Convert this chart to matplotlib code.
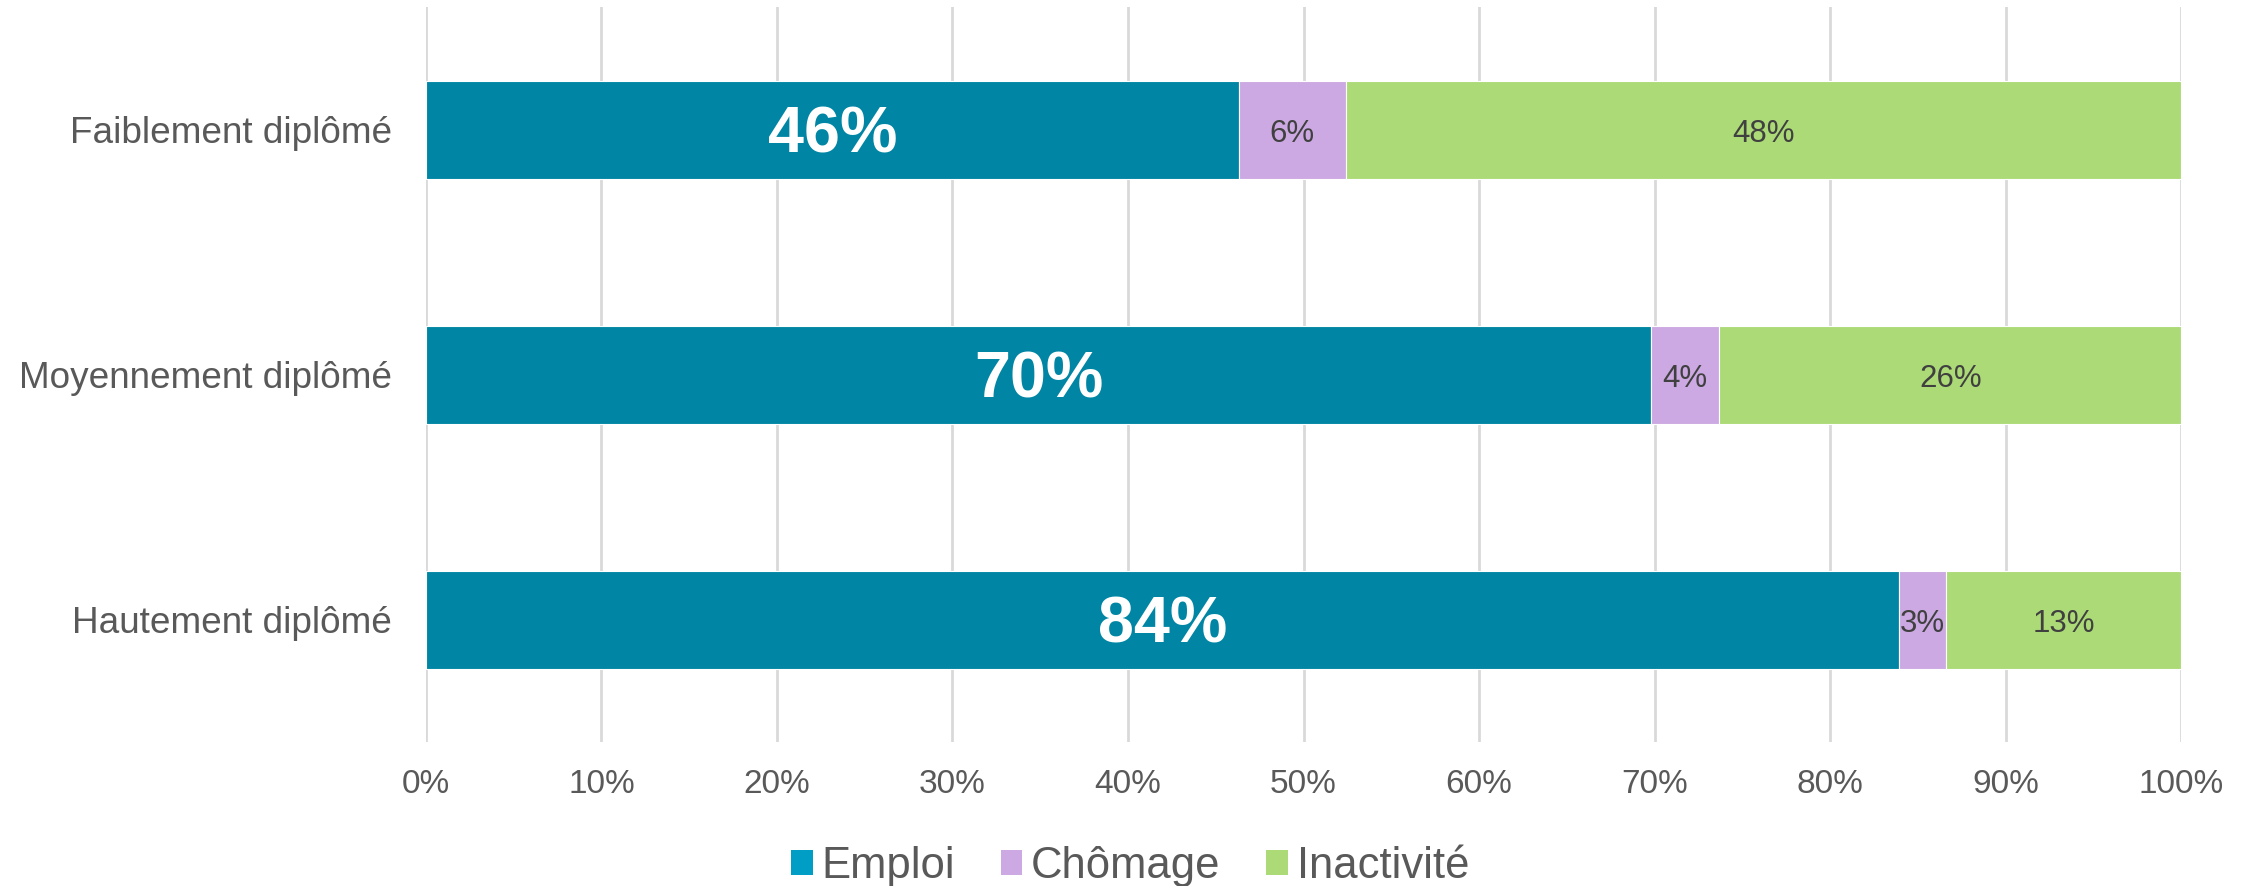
import matplotlib
matplotlib.use("Agg")
import matplotlib.pyplot as plt
from matplotlib.patches import Patch
import numpy as np

plt.rcParams['font.family'] = ['Liberation Sans', 'DejaVu Sans']

categories = ["Faiblement diplômé", "Moyennement diplômé", "Hautement diplômé"]
emploi = [46.3, 69.8, 83.9]
chomage = [6.1, 3.9, 2.7]
inactivite = [47.6, 26.3, 13.4]
series_names = ["Emploi", "Chômage", "Inactivité"]
xticks = [0, 10, 20, 30, 40, 50, 60, 70, 80, 90, 100]
xtick_labels = ["0%", "10%", "20%", "30%", "40%", "50%", "60%", "70%", "80%", "90%", "100%"]

bar_colors = ["#0086A4", "#CCA9E2", "#ACDA76"]
legend_colors = ["#009DC4", "#CCA9E2", "#ACDA76"]

fig = plt.figure(figsize=(22.49, 8.86), dpi=100)
ax = fig.add_axes([0.1894, 0.1625, 0.9698 - 0.1894, 0.992 - 0.1625])

y = np.arange(len(categories))
e = np.array(emploi)
c = np.array(chomage)
i = np.array(inactivite)

ax.barh(y, e, height=0.4, color=bar_colors[0], edgecolor="white", linewidth=0.8, zorder=3)
ax.barh(y, c, left=e, height=0.4, color=bar_colors[1], edgecolor="white", linewidth=0.8, zorder=3)
ax.barh(y, i, left=e + c, height=0.4, color=bar_colors[2], edgecolor="white", linewidth=0.8, zorder=3)

for k in range(len(categories)):
    ax.annotate(f"{round(e[k]):.0f}%", (e[k] / 2, y[k]), xytext=(0, -4.5),
                textcoords="offset points", ha="center", va="center",
                color="white", fontsize=46.5, fontweight="bold", zorder=4)
    ax.annotate(f"{round(c[k]):.0f}%", (e[k] + c[k] / 2, y[k]), xytext=(0, -3),
                textcoords="offset points", ha="center", va="center",
                color="#404040", fontsize=22.5, zorder=4)
    ax.annotate(f"{round(i[k]):.0f}%", (e[k] + c[k] + i[k] / 2, y[k]), xytext=(0, -3),
                textcoords="offset points", ha="center", va="center",
                color="#404040", fontsize=22.5, zorder=4)

ax.set_xlim(0, 100)
ax.set_ylim(2.5, -0.5)
ax.set_xticks(xticks)
ax.set_xticklabels(xtick_labels)
ax.set_yticks(y)
ax.set_yticklabels(categories)
ax.tick_params(axis="x", length=0, pad=19.5, labelsize=24, labelcolor="#595959")
ax.tick_params(axis="y", length=0, pad=24.5, labelsize=26.6, labelcolor="#595959")
for s in ax.spines.values():
    s.set_visible(False)
ax.xaxis.grid(True, color="#D9D9D9", linewidth=2, zorder=0)
ax.set_axisbelow(True)

handles = [Patch(facecolor=col, edgecolor="none") for col in legend_colors]
fig.legend(handles, series_names, loc="center", bbox_to_anchor=(0.5025, 0.022),
           ncol=3, frameon=False, fontsize=31.4, labelcolor="#595959",
           handlelength=0.5, handleheight=0.5, handletextpad=0.2,
           columnspacing=1.05, borderpad=0, borderaxespad=0)

fig.savefig("out.png", dpi=100)
